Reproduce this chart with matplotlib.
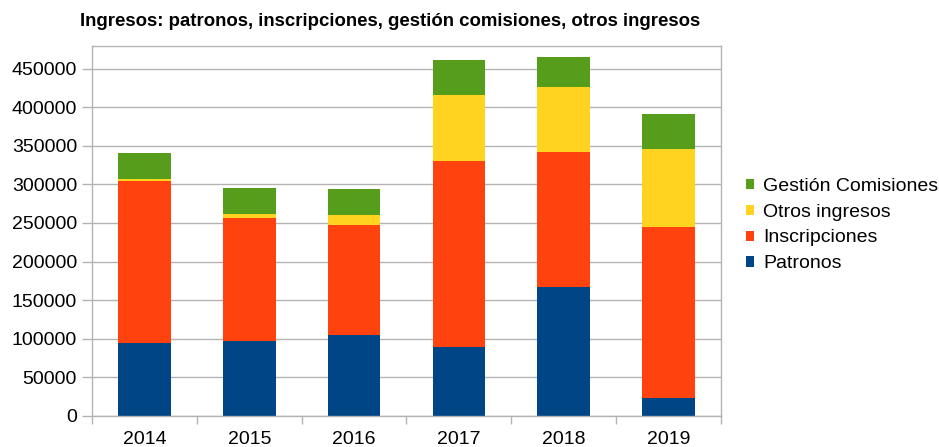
import matplotlib
matplotlib.use('Agg')
import matplotlib.pyplot as plt
import numpy as np

plt.rcParams['font.family'] = ['Liberation Sans', 'DejaVu Sans']

# datos
years = ['2014', '2015', '2016', '2017', '2018', '2019']
patronos = [94400, 97400, 104800, 89200, 167100, 23000]
inscripciones = [209500, 159400, 142900, 241600, 175400, 222100]
otros = [3500, 5200, 12900, 85700, 84400, 101300]
gestion = [33800, 33700, 33800, 45500, 38900, 45400]

series = [
    ('Patronos', patronos, '#004586'),
    ('Inscripciones', inscripciones, '#ff420e'),
    ('Otros ingresos', otros, '#ffd320'),
    ('Gestión Comisiones', gestion, '#579d1c'),
]

fig = plt.figure(figsize=(9.39, 4.47), dpi=100)
ax = fig.add_axes([0.0983, 0.07, 0.6692, 0.8278])

x = np.arange(len(years))
bottom = np.zeros(len(years))
handles = []
for name, vals, col in series:
    b = ax.bar(x, vals, width=0.5, bottom=bottom, color=col, label=name, zorder=2)
    handles.append(b)
    bottom += np.array(vals)

ax.set_ylim(0, 480000)
ax.set_xlim(-0.5, len(years) - 0.5)
ax.set_yticks(np.arange(0, 450001, 50000))
ax.set_yticklabels([str(v) for v in range(0, 450001, 50000)], fontsize=14)
ax.set_xticks(x)
ax.set_xticklabels(years, fontsize=14)
ax.set_xticks(np.arange(-0.5, len(years)), minor=True)
ax.tick_params(axis='x', which='major', length=0, pad=11)
ax.tick_params(axis='x', which='minor', length=5.5, color='#b3b3b3', width=1)
ax.tick_params(axis='y', length=7, color='#b3b3b3', width=1, pad=4)
ax.grid(axis='y', color='#b3b3b3', linewidth=1, zorder=0)
for s in ax.spines.values():
    s.set_color('#b3b3b3')
    s.set_linewidth(1)

fig.text(0.415, 0.953, 'Ingresos: patronos, inscripciones, gestión comisiones, otros ingresos',
         fontsize=13.4, fontweight='bold', ha='center', va='center')

leg = fig.legend(handles[::-1], [s[0] for s in series][::-1], loc='center left',
                 bbox_to_anchor=(0.7945, 0.4966), frameon=False, fontsize=14,
                 handlelength=0.42, handleheight=0.42, handletextpad=0.46,
                 labelspacing=0.46, borderpad=0, borderaxespad=0)

plt.savefig('out.png', dpi=100)
